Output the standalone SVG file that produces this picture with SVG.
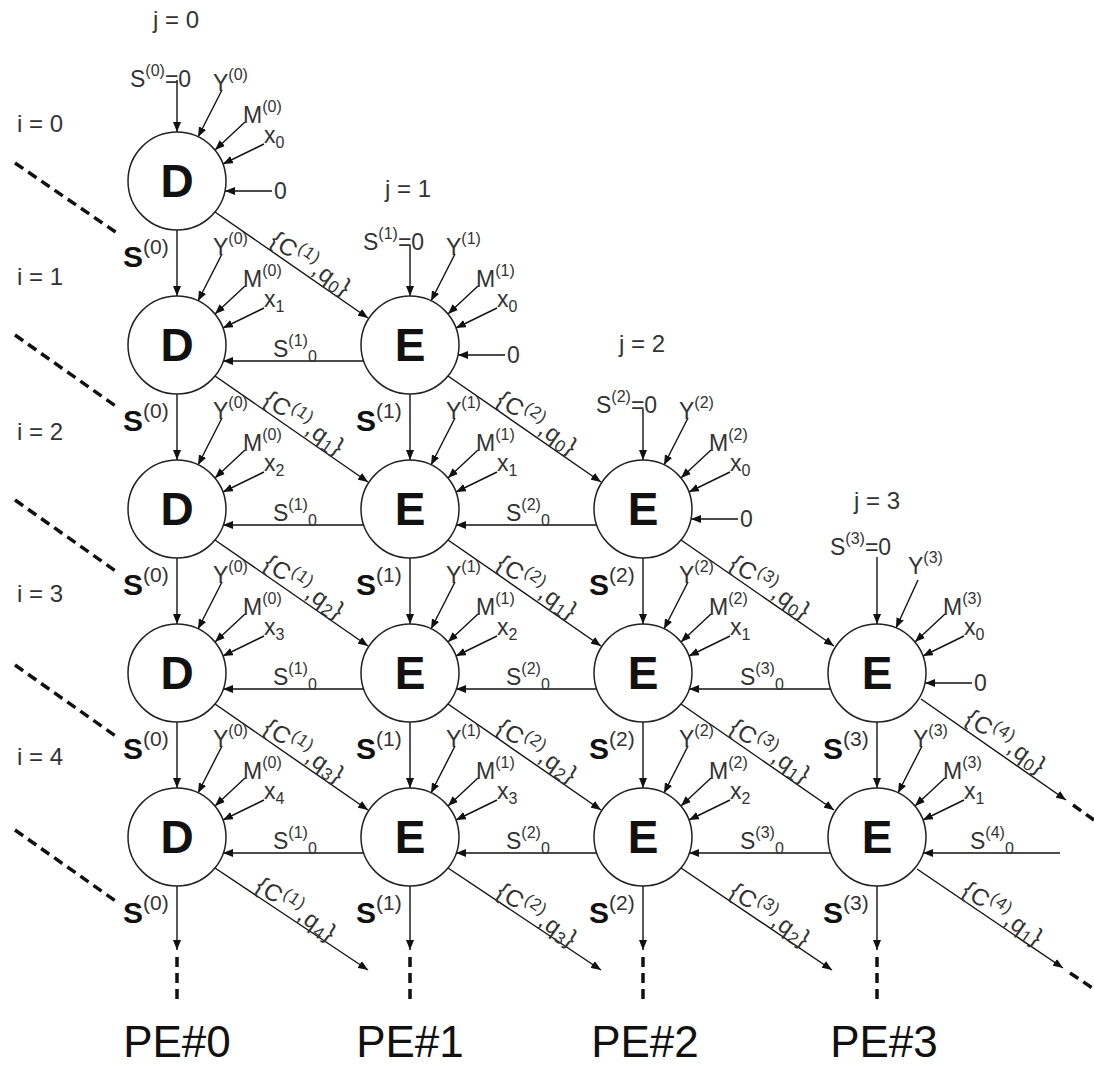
<svg xmlns="http://www.w3.org/2000/svg" width="1094" height="1067" viewBox="0 0 1094 1067">
<defs>
<marker id="ah" viewBox="0 0 10 8" refX="10" refY="4" markerWidth="10" markerHeight="8" markerUnits="userSpaceOnUse" orient="auto"><path d="M0,0 L10,4 L0,8 z" fill="#111"/></marker>
<style>
text{font-family:"Liberation Sans",Arial,sans-serif}
.t{font-size:23px;fill:#333}
.s{font-size:16px}
.cs{font-size:17px}
.ij{font-size:24px;fill:#333}
.b{font-size:30px;font-weight:bold;fill:#111}
.bs{font-size:21px;font-weight:normal;fill:#333}
.c{font-size:24px;fill:#333;letter-spacing:1px}
.nl{font-size:46px;font-weight:bold;fill:#111;text-anchor:middle}
.pe{font-size:44px;fill:#111;text-anchor:middle}
.ln{stroke:#111;stroke-width:1.4;fill:none}
.ar{stroke:#111;stroke-width:1.4;fill:none;marker-end:url(#ah)}
.dl{stroke:#111;stroke-width:3.5;fill:none;stroke-dasharray:10 6}
.node circle{fill:#fff;stroke:#222;stroke-width:1.5}
</style>
</defs>
<rect width="1094" height="1067" fill="#fff"/>

<g id="labels-ij">
<text class="ij" x="176" y="28" text-anchor="middle">j = 0</text>
<text class="ij" x="408" y="197" text-anchor="middle">j = 1</text>
<text class="ij" x="642" y="352" text-anchor="middle">j = 2</text>
<text class="ij" x="877" y="509" text-anchor="middle">j = 3</text>
<text class="ij" x="17" y="132">i = 0</text>
<text class="ij" x="17" y="285">i = 1</text>
<text class="ij" x="17" y="440">i = 2</text>
<text class="ij" x="17" y="602">i = 3</text>
<text class="ij" x="17" y="765">i = 4</text>
</g>

<g id="connectors">
<line class="dl" x1="15" y1="163" x2="117" y2="233"/>
<line class="dl" x1="15" y1="335" x2="117" y2="407"/>
<line class="dl" x1="15" y1="500" x2="117" y2="572"/>
<line class="dl" x1="15" y1="665" x2="117" y2="737"/>
<line class="dl" x1="15" y1="830" x2="117" y2="902"/>

<line class="ar" x1="177" y1="80" x2="177" y2="132"/>
<line class="ar" x1="410" y1="245" x2="410" y2="296"/>
<line class="ar" x1="643" y1="409" x2="643" y2="460"/>
<line class="ar" x1="877" y1="557" x2="877" y2="624"/>

<line class="ar" x1="272" y1="191" x2="225" y2="191"/>
<line class="ar" x1="505" y1="355" x2="458" y2="355"/>
<line class="ar" x1="738" y1="519" x2="691" y2="519"/>
<line class="ar" x1="972" y1="683" x2="925" y2="683"/>

<line class="ar" x1="222" y1="90" x2="198" y2="137"/>
<line class="ar" x1="222" y1="254" x2="198" y2="301"/>
<line class="ar" x1="222" y1="418" x2="198" y2="465"/>
<line class="ar" x1="222" y1="582" x2="198" y2="629"/>
<line class="ar" x1="222" y1="746" x2="198" y2="793"/>
<line class="ar" x1="455" y1="254" x2="431" y2="301"/>
<line class="ar" x1="455" y1="418" x2="431" y2="465"/>
<line class="ar" x1="455" y1="582" x2="431" y2="629"/>
<line class="ar" x1="455" y1="746" x2="431" y2="793"/>
<line class="ar" x1="688" y1="418" x2="664" y2="465"/>
<line class="ar" x1="688" y1="582" x2="664" y2="629"/>
<line class="ar" x1="688" y1="746" x2="664" y2="793"/>
<line class="ar" x1="918" y1="580" x2="896" y2="628"/>
<line class="ar" x1="922" y1="746" x2="898" y2="793"/>

<line class="ar" x1="245" y1="122" x2="215" y2="150"/>
<line class="ar" x1="245" y1="286" x2="215" y2="314"/>
<line class="ar" x1="245" y1="450" x2="215" y2="478"/>
<line class="ar" x1="245" y1="614" x2="215" y2="642"/>
<line class="ar" x1="245" y1="778" x2="215" y2="806"/>
<line class="ar" x1="478" y1="286" x2="448" y2="314"/>
<line class="ar" x1="478" y1="450" x2="448" y2="478"/>
<line class="ar" x1="478" y1="614" x2="448" y2="642"/>
<line class="ar" x1="478" y1="778" x2="448" y2="806"/>
<line class="ar" x1="711" y1="450" x2="681" y2="478"/>
<line class="ar" x1="711" y1="614" x2="681" y2="642"/>
<line class="ar" x1="711" y1="778" x2="681" y2="806"/>
<line class="ar" x1="945" y1="614" x2="915" y2="642"/>
<line class="ar" x1="945" y1="778" x2="915" y2="806"/>

<line class="ar" x1="264" y1="144" x2="223" y2="164"/>
<line class="ar" x1="264" y1="308" x2="223" y2="328"/>
<line class="ar" x1="264" y1="472" x2="223" y2="492"/>
<line class="ar" x1="264" y1="636" x2="223" y2="656"/>
<line class="ar" x1="264" y1="800" x2="223" y2="820"/>
<line class="ar" x1="497" y1="308" x2="456" y2="328"/>
<line class="ar" x1="497" y1="472" x2="456" y2="492"/>
<line class="ar" x1="497" y1="636" x2="456" y2="656"/>
<line class="ar" x1="497" y1="800" x2="456" y2="820"/>
<line class="ar" x1="730" y1="472" x2="689" y2="492"/>
<line class="ar" x1="730" y1="636" x2="689" y2="656"/>
<line class="ar" x1="730" y1="800" x2="689" y2="820"/>
<line class="ar" x1="964" y1="636" x2="923" y2="656"/>
<line class="ar" x1="964" y1="800" x2="923" y2="820"/>

<line class="ar" x1="177" y1="230" x2="177" y2="296"/>
<line class="ar" x1="177" y1="394" x2="177" y2="460"/>
<line class="ar" x1="177" y1="558" x2="177" y2="624"/>
<line class="ar" x1="177" y1="722" x2="177" y2="788"/>
<line class="ar" x1="177" y1="886" x2="177" y2="950"/>
<line class="ar" x1="410" y1="394" x2="410" y2="460"/>
<line class="ar" x1="410" y1="558" x2="410" y2="624"/>
<line class="ar" x1="410" y1="722" x2="410" y2="788"/>
<line class="ar" x1="410" y1="886" x2="410" y2="950"/>
<line class="ar" x1="643" y1="558" x2="643" y2="624"/>
<line class="ar" x1="643" y1="722" x2="643" y2="788"/>
<line class="ar" x1="643" y1="886" x2="643" y2="950"/>
<line class="ar" x1="877" y1="722" x2="877" y2="788"/>
<line class="ar" x1="877" y1="886" x2="877" y2="950"/>
<line class="dl" x1="177" y1="957" x2="177" y2="1000" stroke-dasharray="12 7"/>
<line class="dl" x1="410" y1="957" x2="410" y2="1000" stroke-dasharray="12 7"/>
<line class="dl" x1="643" y1="957" x2="643" y2="1000" stroke-dasharray="12 7"/>
<line class="dl" x1="877" y1="957" x2="877" y2="1000" stroke-dasharray="12 7"/>

<line class="ar" x1="364" y1="361" x2="223" y2="361"/>
<line class="ar" x1="364" y1="525" x2="223" y2="525"/>
<line class="ar" x1="364" y1="689" x2="223" y2="689"/>
<line class="ar" x1="364" y1="853" x2="223" y2="853"/>
<line class="ar" x1="597" y1="525" x2="456" y2="525"/>
<line class="ar" x1="597" y1="689" x2="456" y2="689"/>
<line class="ar" x1="597" y1="853" x2="456" y2="853"/>
<line class="ar" x1="831" y1="689" x2="689" y2="689"/>
<line class="ar" x1="831" y1="853" x2="689" y2="853"/>
<line class="ar" x1="1060" y1="853" x2="923" y2="853"/>

<line class="ar" x1="215" y1="212" x2="368" y2="318"/>
<line class="ar" x1="215" y1="376" x2="368" y2="482"/>
<line class="ar" x1="215" y1="540" x2="368" y2="646"/>
<line class="ar" x1="215" y1="704" x2="368" y2="810"/>
<line class="ar" x1="215" y1="868" x2="368" y2="970"/>
<line class="ar" x1="448" y1="376" x2="601" y2="482"/>
<line class="ar" x1="448" y1="540" x2="601" y2="646"/>
<line class="ar" x1="448" y1="704" x2="601" y2="810"/>
<line class="ar" x1="448" y1="868" x2="601" y2="970"/>
<line class="ar" x1="681" y1="540" x2="834" y2="646"/>
<line class="ar" x1="681" y1="704" x2="834" y2="810"/>
<line class="ar" x1="681" y1="868" x2="832" y2="970"/>
<line class="ar" x1="921" y1="699" x2="1066" y2="800"/>
<line class="ar" x1="917" y1="869" x2="1063" y2="968"/>
<line class="dl" x1="1073" y1="805" x2="1094" y2="820" stroke-dasharray="8 6"/>
<line class="dl" x1="1070" y1="973" x2="1094" y2="989" stroke-dasharray="8 6"/>
</g>

<g id="connector-labels">
<text class="t" x="130" y="87">S<tspan class="s" dy="-11">(0)</tspan><tspan dy="11">=0</tspan></text>
<text class="t" x="363" y="250">S<tspan class="s" dy="-11">(1)</tspan><tspan dy="11">=0</tspan></text>
<text class="t" x="596" y="413">S<tspan class="s" dy="-11">(2)</tspan><tspan dy="11">=0</tspan></text>
<text class="t" x="830" y="555">S<tspan class="s" dy="-11">(3)</tspan><tspan dy="11">=0</tspan></text>
<text class="t" x="274" y="199">0</text>
<text class="t" x="507" y="363">0</text>
<text class="t" x="740" y="527">0</text>
<text class="t" x="974" y="691">0</text>
<text class="t" x="213" y="91">Y<tspan class="s" dy="-11">(0)</tspan></text>
<text class="t" x="213" y="255">Y<tspan class="s" dy="-11">(0)</tspan></text>
<text class="t" x="213" y="419">Y<tspan class="s" dy="-11">(0)</tspan></text>
<text class="t" x="213" y="583">Y<tspan class="s" dy="-11">(0)</tspan></text>
<text class="t" x="213" y="747">Y<tspan class="s" dy="-11">(0)</tspan></text>
<text class="t" x="446" y="255">Y<tspan class="s" dy="-11">(1)</tspan></text>
<text class="t" x="446" y="419">Y<tspan class="s" dy="-11">(1)</tspan></text>
<text class="t" x="446" y="583">Y<tspan class="s" dy="-11">(1)</tspan></text>
<text class="t" x="446" y="747">Y<tspan class="s" dy="-11">(1)</tspan></text>
<text class="t" x="679" y="419">Y<tspan class="s" dy="-11">(2)</tspan></text>
<text class="t" x="679" y="583">Y<tspan class="s" dy="-11">(2)</tspan></text>
<text class="t" x="679" y="747">Y<tspan class="s" dy="-11">(2)</tspan></text>
<text class="t" x="908" y="574">Y<tspan class="s" dy="-11">(3)</tspan></text>
<text class="t" x="913" y="747">Y<tspan class="s" dy="-11">(3)</tspan></text>
<text class="t" x="243" y="123">M<tspan class="s" dy="-11">(0)</tspan></text>
<text class="t" x="243" y="287">M<tspan class="s" dy="-11">(0)</tspan></text>
<text class="t" x="243" y="451">M<tspan class="s" dy="-11">(0)</tspan></text>
<text class="t" x="243" y="615">M<tspan class="s" dy="-11">(0)</tspan></text>
<text class="t" x="243" y="779">M<tspan class="s" dy="-11">(0)</tspan></text>
<text class="t" x="476" y="287">M<tspan class="s" dy="-11">(1)</tspan></text>
<text class="t" x="476" y="451">M<tspan class="s" dy="-11">(1)</tspan></text>
<text class="t" x="476" y="615">M<tspan class="s" dy="-11">(1)</tspan></text>
<text class="t" x="476" y="779">M<tspan class="s" dy="-11">(1)</tspan></text>
<text class="t" x="709" y="451">M<tspan class="s" dy="-11">(2)</tspan></text>
<text class="t" x="709" y="615">M<tspan class="s" dy="-11">(2)</tspan></text>
<text class="t" x="709" y="779">M<tspan class="s" dy="-11">(2)</tspan></text>
<text class="t" x="943" y="615">M<tspan class="s" dy="-11">(3)</tspan></text>
<text class="t" x="943" y="779">M<tspan class="s" dy="-11">(3)</tspan></text>
<text class="t" x="264" y="143">x<tspan class="s" dy="5">0</tspan></text>
<text class="t" x="264" y="307">x<tspan class="s" dy="5">1</tspan></text>
<text class="t" x="264" y="471">x<tspan class="s" dy="5">2</tspan></text>
<text class="t" x="264" y="635">x<tspan class="s" dy="5">3</tspan></text>
<text class="t" x="264" y="799">x<tspan class="s" dy="5">4</tspan></text>
<text class="t" x="497" y="307">x<tspan class="s" dy="5">0</tspan></text>
<text class="t" x="497" y="471">x<tspan class="s" dy="5">1</tspan></text>
<text class="t" x="497" y="635">x<tspan class="s" dy="5">2</tspan></text>
<text class="t" x="497" y="799">x<tspan class="s" dy="5">3</tspan></text>
<text class="t" x="730" y="471">x<tspan class="s" dy="5">0</tspan></text>
<text class="t" x="730" y="635">x<tspan class="s" dy="5">1</tspan></text>
<text class="t" x="730" y="799">x<tspan class="s" dy="5">2</tspan></text>
<text class="t" x="964" y="635">x<tspan class="s" dy="5">0</tspan></text>
<text class="t" x="964" y="799">x<tspan class="s" dy="5">1</tspan></text>
<text class="t" x="273" y="357">S<tspan class="s" dy="-11">(1)</tspan><tspan class="s" dy="16">0</tspan></text>
<text class="t" x="273" y="521">S<tspan class="s" dy="-11">(1)</tspan><tspan class="s" dy="16">0</tspan></text>
<text class="t" x="273" y="685">S<tspan class="s" dy="-11">(1)</tspan><tspan class="s" dy="16">0</tspan></text>
<text class="t" x="273" y="849">S<tspan class="s" dy="-11">(1)</tspan><tspan class="s" dy="16">0</tspan></text>
<text class="t" x="506" y="521">S<tspan class="s" dy="-11">(2)</tspan><tspan class="s" dy="16">0</tspan></text>
<text class="t" x="506" y="685">S<tspan class="s" dy="-11">(2)</tspan><tspan class="s" dy="16">0</tspan></text>
<text class="t" x="506" y="849">S<tspan class="s" dy="-11">(2)</tspan><tspan class="s" dy="16">0</tspan></text>
<text class="t" x="740" y="685">S<tspan class="s" dy="-11">(3)</tspan><tspan class="s" dy="16">0</tspan></text>
<text class="t" x="740" y="849">S<tspan class="s" dy="-11">(3)</tspan><tspan class="s" dy="16">0</tspan></text>
<text class="t" x="970" y="849">S<tspan class="s" dy="-11">(4)</tspan><tspan class="s" dy="16">0</tspan></text>
<text class="b" x="123" y="267">S<tspan class="bs" dy="-13">(0)</tspan></text>
<text class="b" x="123" y="431">S<tspan class="bs" dy="-13">(0)</tspan></text>
<text class="b" x="123" y="595">S<tspan class="bs" dy="-13">(0)</tspan></text>
<text class="b" x="123" y="759">S<tspan class="bs" dy="-13">(0)</tspan></text>
<text class="b" x="123" y="923">S<tspan class="bs" dy="-13">(0)</tspan></text>
<text class="b" x="356" y="431">S<tspan class="bs" dy="-13">(1)</tspan></text>
<text class="b" x="356" y="595">S<tspan class="bs" dy="-13">(1)</tspan></text>
<text class="b" x="356" y="759">S<tspan class="bs" dy="-13">(1)</tspan></text>
<text class="b" x="356" y="923">S<tspan class="bs" dy="-13">(1)</tspan></text>
<text class="b" x="589" y="595">S<tspan class="bs" dy="-13">(2)</tspan></text>
<text class="b" x="589" y="759">S<tspan class="bs" dy="-13">(2)</tspan></text>
<text class="b" x="589" y="923">S<tspan class="bs" dy="-13">(2)</tspan></text>
<text class="b" x="823" y="759">S<tspan class="bs" dy="-13">(3)</tspan></text>
<text class="b" x="823" y="923">S<tspan class="bs" dy="-13">(3)</tspan></text>
<text class="c" transform="translate(215,212) rotate(35)" x="62" y="-5">{C<tspan class="cs" dy="-10">(1)</tspan><tspan dy="10">,q</tspan><tspan class="cs" dy="4">0</tspan><tspan dy="-4">}</tspan></text>
<text class="c" transform="translate(215,376) rotate(35)" x="54" y="-5">{C<tspan class="cs" dy="-10">(1)</tspan><tspan dy="10">,q</tspan><tspan class="cs" dy="4">1</tspan><tspan dy="-4">}</tspan></text>
<text class="c" transform="translate(215,540) rotate(35)" x="54" y="-5">{C<tspan class="cs" dy="-10">(1)</tspan><tspan dy="10">,q</tspan><tspan class="cs" dy="4">2</tspan><tspan dy="-4">}</tspan></text>
<text class="c" transform="translate(215,704) rotate(35)" x="54" y="-5">{C<tspan class="cs" dy="-10">(1)</tspan><tspan dy="10">,q</tspan><tspan class="cs" dy="4">3</tspan><tspan dy="-4">}</tspan></text>
<text class="c" transform="translate(215,868) rotate(35)" x="44" y="-5">{C<tspan class="cs" dy="-10">(1)</tspan><tspan dy="10">,q</tspan><tspan class="cs" dy="4">4</tspan><tspan dy="-4">}</tspan></text>
<text class="c" transform="translate(448,376) rotate(35)" x="54" y="-5">{C<tspan class="cs" dy="-10">(2)</tspan><tspan dy="10">,q</tspan><tspan class="cs" dy="4">0</tspan><tspan dy="-4">}</tspan></text>
<text class="c" transform="translate(448,540) rotate(35)" x="54" y="-5">{C<tspan class="cs" dy="-10">(2)</tspan><tspan dy="10">,q</tspan><tspan class="cs" dy="4">1</tspan><tspan dy="-4">}</tspan></text>
<text class="c" transform="translate(448,704) rotate(35)" x="54" y="-5">{C<tspan class="cs" dy="-10">(2)</tspan><tspan dy="10">,q</tspan><tspan class="cs" dy="4">2</tspan><tspan dy="-4">}</tspan></text>
<text class="c" transform="translate(448,868) rotate(35)" x="54" y="-5">{C<tspan class="cs" dy="-10">(2)</tspan><tspan dy="10">,q</tspan><tspan class="cs" dy="4">3</tspan><tspan dy="-4">}</tspan></text>
<text class="c" transform="translate(681,540) rotate(35)" x="54" y="-5">{C<tspan class="cs" dy="-10">(3)</tspan><tspan dy="10">,q</tspan><tspan class="cs" dy="4">0</tspan><tspan dy="-4">}</tspan></text>
<text class="c" transform="translate(681,704) rotate(35)" x="54" y="-5">{C<tspan class="cs" dy="-10">(3)</tspan><tspan dy="10">,q</tspan><tspan class="cs" dy="4">1</tspan><tspan dy="-4">}</tspan></text>
<text class="c" transform="translate(681,868) rotate(35)" x="54" y="-5">{C<tspan class="cs" dy="-10">(3)</tspan><tspan dy="10">,q</tspan><tspan class="cs" dy="4">2</tspan><tspan dy="-4">}</tspan></text>
<text class="c" transform="translate(921,699) rotate(35)" x="48" y="-6">{C<tspan class="cs" dy="-10">(4)</tspan><tspan dy="10">,q</tspan><tspan class="cs" dy="4">0</tspan><tspan dy="-4">}</tspan></text>
<text class="c" transform="translate(917,869) rotate(35)" x="50" y="-5">{C<tspan class="cs" dy="-10">(4)</tspan><tspan dy="10">,q</tspan><tspan class="cs" dy="4">1</tspan><tspan dy="-4">}</tspan></text>
</g>

<g id="nodes">
<g id="n-0-0" class="node"><circle cx="177" cy="181" r="49"/><text class="nl" x="177" y="197">D</text></g>
<g id="n-1-0" class="node"><circle cx="177" cy="345" r="49"/><text class="nl" x="177" y="361">D</text></g>
<g id="n-2-0" class="node"><circle cx="177" cy="509" r="49"/><text class="nl" x="177" y="525">D</text></g>
<g id="n-3-0" class="node"><circle cx="177" cy="673" r="49"/><text class="nl" x="177" y="689">D</text></g>
<g id="n-4-0" class="node"><circle cx="177" cy="837" r="49"/><text class="nl" x="177" y="853">D</text></g>
<g id="n-1-1" class="node"><circle cx="410" cy="345" r="49"/><text class="nl" x="410" y="361">E</text></g>
<g id="n-2-1" class="node"><circle cx="410" cy="509" r="49"/><text class="nl" x="410" y="525">E</text></g>
<g id="n-3-1" class="node"><circle cx="410" cy="673" r="49"/><text class="nl" x="410" y="689">E</text></g>
<g id="n-4-1" class="node"><circle cx="410" cy="837" r="49"/><text class="nl" x="410" y="853">E</text></g>
<g id="n-2-2" class="node"><circle cx="643" cy="509" r="49"/><text class="nl" x="643" y="525">E</text></g>
<g id="n-3-2" class="node"><circle cx="643" cy="673" r="49"/><text class="nl" x="643" y="689">E</text></g>
<g id="n-4-2" class="node"><circle cx="643" cy="837" r="49"/><text class="nl" x="643" y="853">E</text></g>
<g id="n-3-3" class="node"><circle cx="877" cy="673" r="49"/><text class="nl" x="877" y="689">E</text></g>
<g id="n-4-3" class="node"><circle cx="877" cy="837" r="49"/><text class="nl" x="877" y="853">E</text></g>
</g>

<g id="pe-labels">
<text class="pe" x="177" y="1057">PE#0</text>
<text class="pe" x="410" y="1057">PE#1</text>
<text class="pe" x="645" y="1057">PE#2</text>
<text class="pe" x="884" y="1057">PE#3</text>
</g>
</svg>
